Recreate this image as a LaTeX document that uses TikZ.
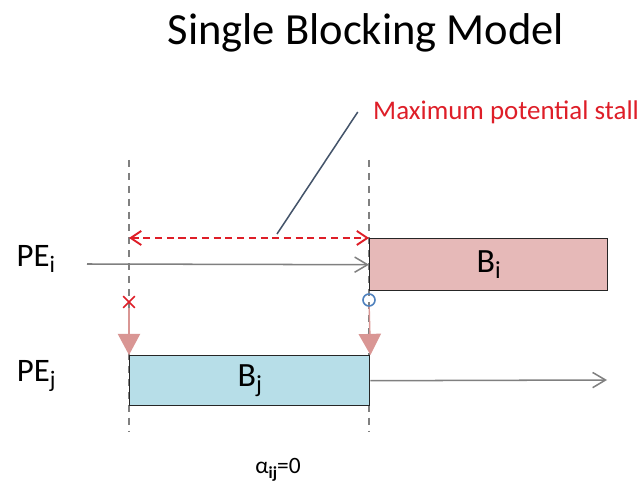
\documentclass[tikz,border=0pt]{standalone}
\usepackage{fontspec}
\setmainfont{Carlito}
\usepackage{xcolor}
\usepackage{tikz}
\usetikzlibrary{positioning, arrows.meta, shapes.misc}
\definecolor{blockpink}{RGB}{230,185,184}
\definecolor{blockblue}{RGB}{183,222,232}
\definecolor{dropred}{RGB}{217,150,148}
\definecolor{stallred}{RGB}{222,30,40}
\definecolor{leaderblue}{RGB}{68,84,106}
\definecolor{markblue}{RGB}{79,129,189}
\newcommand{\lowsub}[1]{\raisebox{-0.4ex}{\scalebox{0.72}{#1}}}

\begin{document}
\begin{tikzpicture}[x=0.03cm, y=-0.03cm,
    blk/.style={draw=black!85, line width=1.2pt, inner sep=0pt,
                font=\fontsize{29}{30}\selectfont},
    lbl/.style={font=\fontsize{28}{30}\selectfont, inner sep=0pt},
    guide/.style={draw=gray, line width=1pt, dash pattern=on 6pt off 5pt},
    flow/.style={draw=gray, line width=1.3pt, -{Straight Barb[length=11pt, width=13pt]}},
    span/.style={draw=stallred, line width=1.6pt, dash pattern=on 6pt off 4pt,
                {Straight Barb[length=9pt, width=12pt]}-{Straight Barb[length=9pt, width=12pt]}},
    drop/.style={draw=dropred, line width=1.2pt, -{Triangle[length=18pt, width=19pt]}}]

  \useasboundingbox (0,0) rectangle (643,486);

  \node[font=\fontsize{38}{40}\selectfont] (title) at (366,33) {Single Blocking Model};

  % start / end of B_j
  \coordinate (ta) at (129,160);
  \coordinate (tb) at (369,160);
  \coordinate (ta') at (129,432);
  \coordinate (tb') at (369,432);
  \draw[guide] (ta) -- (ta');
  \draw[guide] (tb) -- (tb');

  \node[blk, fill=blockpink, minimum width=7.14cm, minimum height=1.56cm,
        anchor=north west] (bi) at (369,238) {B\lowsub{i}};
  \node[blk, fill=blockblue, minimum width=7.2cm, minimum height=1.5cm,
        anchor=north west] (bj) at (129,355) {B\lowsub{j}};

  \coordinate (si) at (87,264);
  \coordinate (ej) at (607,380);
  \node[lbl, left=0.95cm of si, yshift=4pt] (pei) {PE\lowsub{i}};
  \node[lbl, left=2.2cm of bj.west, yshift=4pt] (pej) {PE\lowsub{j}};

  \draw[flow] (si) -- (bi.west);
  \draw[flow] (bj.east) -- (ej);

  % stall window
  \draw[span] (ta |- bi.north) -- (bi.north west);
  \node[font=\fontsize{23}{25}\selectfont, text=stallred, anchor=west, inner sep=0pt]
        (stall) at (373,112) {Maximum potential stall};
  \coordinate (lead) at (277,234);
  \draw[leaderblue, line width=1.3pt] (lead) -- ([xshift=-13pt]stall.west);

  \node[cross out, draw=stallred, line width=1.4pt, minimum size=0.3cm,
        inner sep=0pt] (xm) at (129,302) {};
  \node[circle, draw=markblue, line width=1.4pt, minimum size=0.36cm,
        inner sep=0pt] (om) at (369,300) {};
  \draw[drop] (xm) -- (bj.north west);
  \draw[drop] (om) -- (bj.north east);

  \node[font=\fontsize{20}{22}\selectfont] (alpha) at (278,470) {α\lowsub{\textbf{ij}}=0};
\end{tikzpicture}
\end{document}
